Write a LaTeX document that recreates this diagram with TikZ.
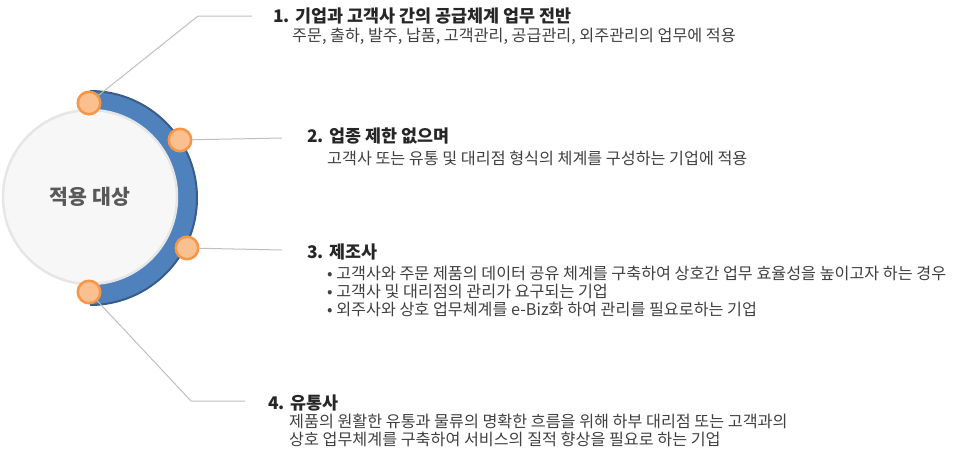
\documentclass[tikz,border=0pt]{standalone}
\usepackage{fontspec}
\setmainfont{Noto Sans CJK KR}
\usepackage{xcolor}
\usepackage{tikz}
\usetikzlibrary{positioning}
\definecolor{ringblue}{RGB}{79,129,189}
\definecolor{ringedge}{RGB}{56,93,138}
\definecolor{dotfill}{RGB}{250,192,144}
\definecolor{dotedge}{RGB}{247,150,70}
\definecolor{corefill}{RGB}{247,247,247}
\definecolor{coreedge}{RGB}{230,230,230}
\definecolor{leadgray}{RGB}{191,191,191}
\definecolor{headtext}{RGB}{38,38,38}
\definecolor{bodytext}{RGB}{64,64,64}
\definecolor{coretext}{RGB}{89,89,89}

\begin{document}
\begin{tikzpicture}[x=1pt,y=-1pt,
    core/.style={circle, minimum size=174pt, inner sep=0pt, fill=corefill, draw=coreedge,
      line width=2.5pt, text=coretext, font=\fontsize{20.5}{22}\selectfont\bfseries},
    dot/.style={circle, minimum size=22.5pt, inner sep=0pt, fill=dotfill, draw=dotedge, line width=2.5pt},
    lead/.style={draw=leadgray, line width=1pt},
    head/.style={anchor=west, inner sep=0pt, text=headtext, font=\fontsize{17.4}{19}\selectfont\bfseries},
    body/.style={anchor=west, inner sep=0pt, align=left, text=bodytext, font=\fontsize{16.2}{18}\selectfont}]
    \useasboundingbox (0,0) rectangle (971,456);

    % Blue ring behind the core
    \fill[ringblue] (90,91) arc[start angle=-90, end angle=90, radius=107] -- cycle;
    \draw[ringedge, line width=2pt] (90,91) arc[start angle=-90, end angle=90, radius=107];
    \node[core] (core) at (90,197) {적용 대상};

    % Dots on the ring
    \node[dot] (d1) at (89,103) {};
    \node[dot] (d2) at (180,140) {};
    \node[dot] (d3) at (187,248) {};
    \node[dot] (d4) at (89,292) {};

    % Leader lines
    \coordinate (b1) at (198,16);  \coordinate (e1) at (252,16);
    \coordinate (e2) at (282,138);
    \coordinate (e3) at (282,250);
    \coordinate (b4) at (191,401); \coordinate (e4) at (245,401);
    \draw[lead] (d1) -- (b1) -- (e1);
    \draw[lead] (d2) -- (e2);
    \draw[lead] (d3) -- (e3);
    \draw[lead] (d4) -- (b4) -- (e4);

    % Items
    \node[head] (h1) at (273,16) {1. 기업과 고객사 간의 공급체계 업무 전반};
    \node[body] (t1) at (292,36) {주문, 출하, 발주, 납품, 고객관리, 공급관리, 외주관리의 업무에 적용};

    \node[head] (h2) at (307,136) {2. 업종 제한 없으며};
    \node[body] (t2) at (327,158) {고객사 또는 유통 및 대리점 형식의 체계를 구성하는 기업에 적용};

    \node[head] (h3) at (307,252) {3. 제조사};
    \node[body] (t3) at (327,291) {• 고객사와 주문 제품의 데이터 공유 체계를 구축하여 상호간 업무 효율성을 높이고자 하는 경우\\
      • 고객사 및 대리점의 관리가 요구되는 기업\\
      • 외주사와 상호 업무체계를 e-Biz화 하여 관리를 필요로하는 기업};

    \node[head] (h4) at (268,403) {4. 유통사};
    \node[body] (t4) at (289,430.5) {제품의 원활한 유통과 물류의 명확한 흐름을 위해 하부 대리점 또는 고객과의\\
      상호 업무체계를 구축하여 서비스의 질적 향상을 필요로 하는 기업};
\end{tikzpicture}
\end{document}
